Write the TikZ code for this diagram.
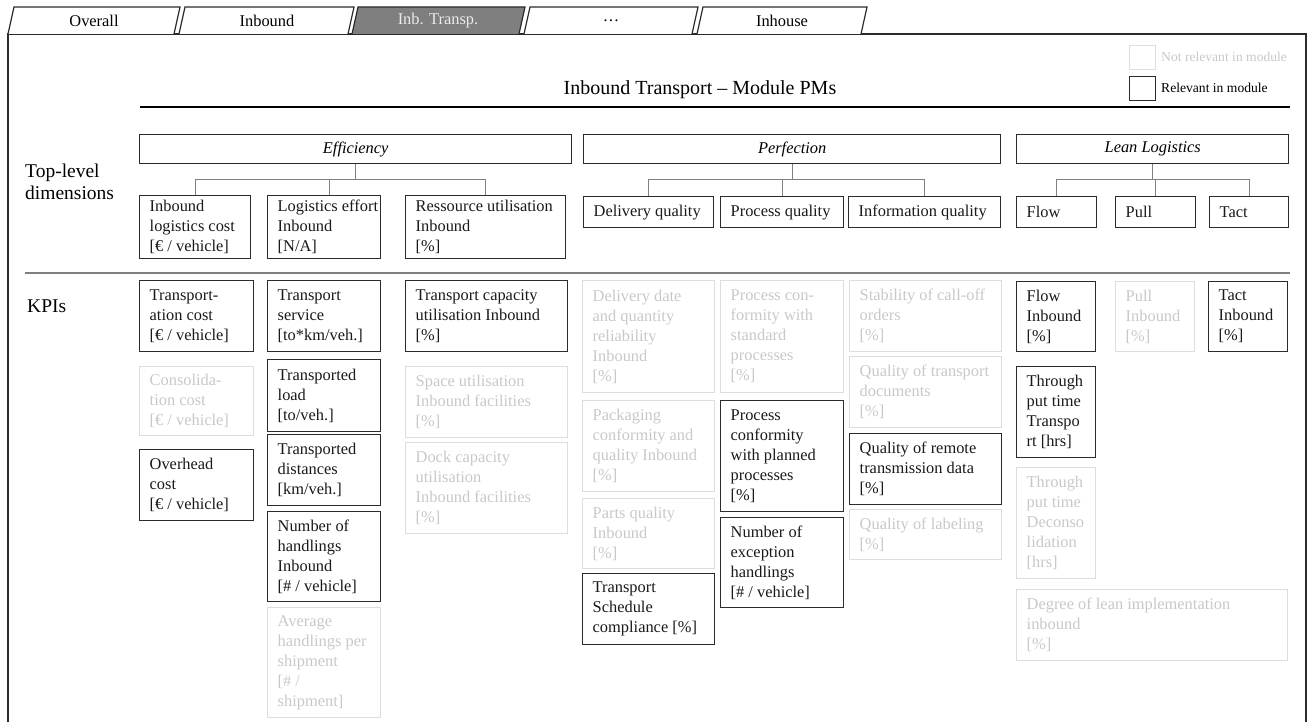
\documentclass[tikz,border=0pt]{standalone}
\usepackage{fontspec}
\setmainfont{Liberation Serif}
\definecolor{relc}{HTML}{2B2B2B}
\definecolor{nrelc}{HTML}{DDDDDD}
\definecolor{nreltext}{HTML}{C8C8C8}
\definecolor{connc}{HTML}{808080}
\definecolor{tabgray}{HTML}{7F7F7F}
\tikzset{
 base/.style={font=\fontsize{16.4}{20}\selectfont},
 rel/.style={draw=relc, line width=1.4pt, inner sep=0pt},
 nrel/.style={draw=nrelc, line width=1.4pt, inner sep=0pt},
 reltxt/.style={base, text=black!90, align=left, inner sep=0pt},
 nreltxt/.style={base, text=nreltext, align=left, inner sep=0pt},
 conn/.style={draw=connc, line width=1pt},
 dimbox/.style={rel, font=\fontsize{16.4}{20}\selectfont\itshape, anchor=north west},
 tabshape/.style={draw=relc, line width=1.2pt, fill=white},
 tabtxt/.style={font=\fontsize{16.4}{20}\selectfont, inner sep=0pt},
 frame/.style={draw=relc, line width=1.4pt},
 sidelbl/.style={font=\fontsize{19.5}{22}\selectfont, align=left, inner sep=0pt, anchor=west},
}
\newcommand{\kb}[7]{%
 \node[#1, minimum width=#5pt, minimum height=#6pt, anchor=north west] (#2) at (#3,#4) {};
 \node[#1txt, anchor=west] (#2t) at ([xshift=10.5pt]#2.west) {#7};}
\begin{document}
\begin{tikzpicture}[x=1pt,y=-1pt]
\useasboundingbox (0,0) rectangle (1308,722);
% frame
\draw[frame] (8,722) -- (8,34) -- (1306,34) -- (1306,722);
% tabs
\draw[tabshape] (8,34) -- (14,7) -- (180,7) -- (174,34);
\node[tabtxt] (tab1) at (94,21) {Overall};
\draw[tabshape] (179,34) -- (185,7) -- (354,7) -- (348,34);
\node[tabtxt] (tab2) at (267,21) {Inbound};
\draw[tabshape, fill=tabgray] (352,34) -- (358,7) -- (525,7) -- (519,34);
\node[tabtxt, text=white!92!black] (tab3) at (438,21) {Inb. Transp.};
\draw[tabshape] (524,34) -- (530,7) -- (698,7) -- (692,34);
\node[tabtxt] (tab4) at (611,21) {\dots};
\draw[tabshape] (697,34) -- (703,7) -- (867,7) -- (861,34);
\node[tabtxt] (tab5) at (782,21) {Inhouse};
% title
\node[font=\fontsize{20}{24}\selectfont, inner sep=0pt] (title) at (700,90) {Inbound Transport – Module PMs};
\draw[line width=1.8pt, draw=black] (140,107) -- (1290,107);
% legend
\node[nrel, minimum width=26pt, minimum height=24pt, anchor=north west] (lg1) at (1129,45) {};
\node[font=\fontsize{13.6}{16}\selectfont, text=nreltext, anchor=west, inner sep=0pt] (lg1t) at (1161,57) {Not relevant in module};
\node[rel, minimum width=26pt, minimum height=24pt, anchor=north west] (lg2) at (1129,76) {};
\node[font=\fontsize{13.6}{16}\selectfont, anchor=west, inner sep=0pt] (lg2t) at (1161,88) {Relevant in module};
% side labels
\node[sidelbl] (tl) at (25,182) {Top-level\\dimensions};
\node[sidelbl] (kp) at (27,306) {KPIs};
\draw[draw=connc, line width=1.3pt] (25,273) -- (1290,273);
% dimensions
\node[dimbox, minimum width=432pt, minimum height=29pt] (eff) at (139,134) {Efficiency};
\node[dimbox, minimum width=417pt, minimum height=29pt] (per) at (583,134) {Perfection};
\node[dimbox, minimum width=272pt, minimum height=29pt] (lean) at (1016,134) {Lean Logistics};
\kb{rel}{ilc}{139}{195}{111}{63}{Inbound\\logistics cost\\{[}€ / vehicle{]}}
\kb{rel}{le}{267}{195}{113}{63}{Logistics effort\\Inbound\\{[}N/A{]}}
\kb{rel}{ru}{405}{195}{160}{63}{Ressource utilisation\\Inbound\\{[}\%{]}}
\kb{rel}{dq}{583}{196}{130}{31}{Delivery quality}
\kb{rel}{prq}{720}{196}{123}{31}{Process quality}
\kb{rel}{iq}{848}{196}{152}{31}{Information quality}
\kb{rel}{fl}{1016}{196}{80}{31}{Flow}
\kb{rel}{pu}{1115}{196}{80}{31}{Pull}
\kb{rel}{ta}{1209}{196}{79}{31}{Tact}
% connectors
\coordinate (ly) at (0,180);
\draw[conn] (eff.south) -- (eff.south |- ly);
\draw[conn] (ilc.north) -- (ilc.north |- ly) -- (ru.north |- ly) -- (ru.north);
\draw[conn] ([xshift=5pt]le.north) -- ([xshift=5pt]le.north |- ly);
\draw[conn] (per.south) -- (per.south |- ly);
\draw[conn] (dq.north) -- (dq.north |- ly) -- (iq.north |- ly) -- (iq.north);
\draw[conn] (prq.north) -- (prq.north |- ly);
\draw[conn] (lean.south) -- (lean.south |- ly);
\draw[conn] (fl.north) -- (fl.north |- ly) -- (ta.north |- ly) -- (ta.north);
\draw[conn] (pu.north) -- (pu.north |- ly);
% KPIs efficiency
\kb{rel}{tc}{139}{280}{114}{71}{Transport-\\ation cost\\{[}€ / vehicle{]}}
\kb{nrel}{cc}{139}{366}{114}{69}{Consolida-\\tion cost\\{[}€ / vehicle{]}}
\kb{rel}{oc}{139}{449}{114}{71}{Overhead\\cost\\{[}€ / vehicle{]}}
\kb{rel}{ts}{267}{280}{113}{71}{Transport\\service\\{[}to*km/veh.{]}}
\kb{rel}{tlo}{267}{359}{113}{72}{Transported\\load\\{[}to/veh.{]}}
\kb{rel}{td}{267}{434}{113}{71}{Transported\\distances\\{[}km/veh.{]}}
\kb{rel}{nh}{267}{511}{113}{90}{Number of\\handlings\\Inbound\\{[}\# / vehicle{]}}
\kb{nrel}{ah}{267}{607}{113}{110}{Average\\handlings per\\shipment\\{[}\# /\\shipment{]}}
\kb{rel}{tcu}{405}{280}{162}{71}{Transport capacity\\utilisation Inbound\\{[}\%{]}}
\kb{nrel}{su}{405}{366}{162}{71}{Space utilisation\\Inbound facilities\\{[}\%{]}}
\kb{nrel}{dc}{405}{442}{162}{91}{Dock capacity\\utilisation\\Inbound facilities\\{[}\%{]}}
% KPIs perfection
\kb{nrel}{dd}{582}{280}{132}{112}{Delivery date\\and quantity\\reliability\\Inbound\\{[}\%{]}}
\kb{nrel}{pc}{582}{400}{132}{91}{Packaging\\conformity and\\quality Inbound\\{[}\%{]}}
\kb{nrel}{pq}{582}{498}{132}{70}{Parts quality\\Inbound\\{[}\%{]}}
\kb{rel}{tsc}{582}{573}{132}{71}{Transport\\Schedule\\compliance {[}\%{]}}
\kb{nrel}{pcs}{720}{280}{123}{112}{Process con-\\formity with\\standard\\processes\\{[}\%{]}}
\kb{rel}{pcp}{720}{400}{123}{111}{Process\\conformity\\with planned\\processes\\{[}\%{]}}
\kb{rel}{neh}{720}{517}{123}{90}{Number of\\exception\\handlings\\{[}\# / vehicle{]}}
\kb{nrel}{sco}{849}{280}{152}{71}{Stability of call-off\\orders\\{[}\%{]}}
\kb{nrel}{qtd}{849}{356}{152}{71}{Quality of transport\\documents\\{[}\%{]}}
\kb{rel}{qrt}{849}{433}{152}{71}{Quality of remote\\transmission data\\{[}\%{]}}
\kb{nrel}{ql}{849}{509}{152}{50}{Quality of labeling\\{[}\%{]}}
% KPIs lean
\kb{rel}{fi}{1016}{281}{79}{70}{Flow\\Inbound\\{[}\%{]}}
\kb{nrel}{pi}{1115}{281}{79}{70}{Pull\\Inbound\\{[}\%{]}}
\kb{rel}{ti}{1208}{281}{79}{70}{Tact\\Inbound\\{[}\%{]}}
\kb{rel}{tpt}{1016}{366}{79}{91}{Through\\put time\\Transpo\\rt {[}hrs{]}}
\kb{nrel}{tpd}{1016}{467}{79}{111}{Through\\put time\\Deconso\\lidation\\{[}hrs{]}}
\kb{nrel}{dl}{1016}{589}{271}{71}{Degree of lean implementation\\inbound\\{[}\%{]}}
\end{tikzpicture}
\end{document}
